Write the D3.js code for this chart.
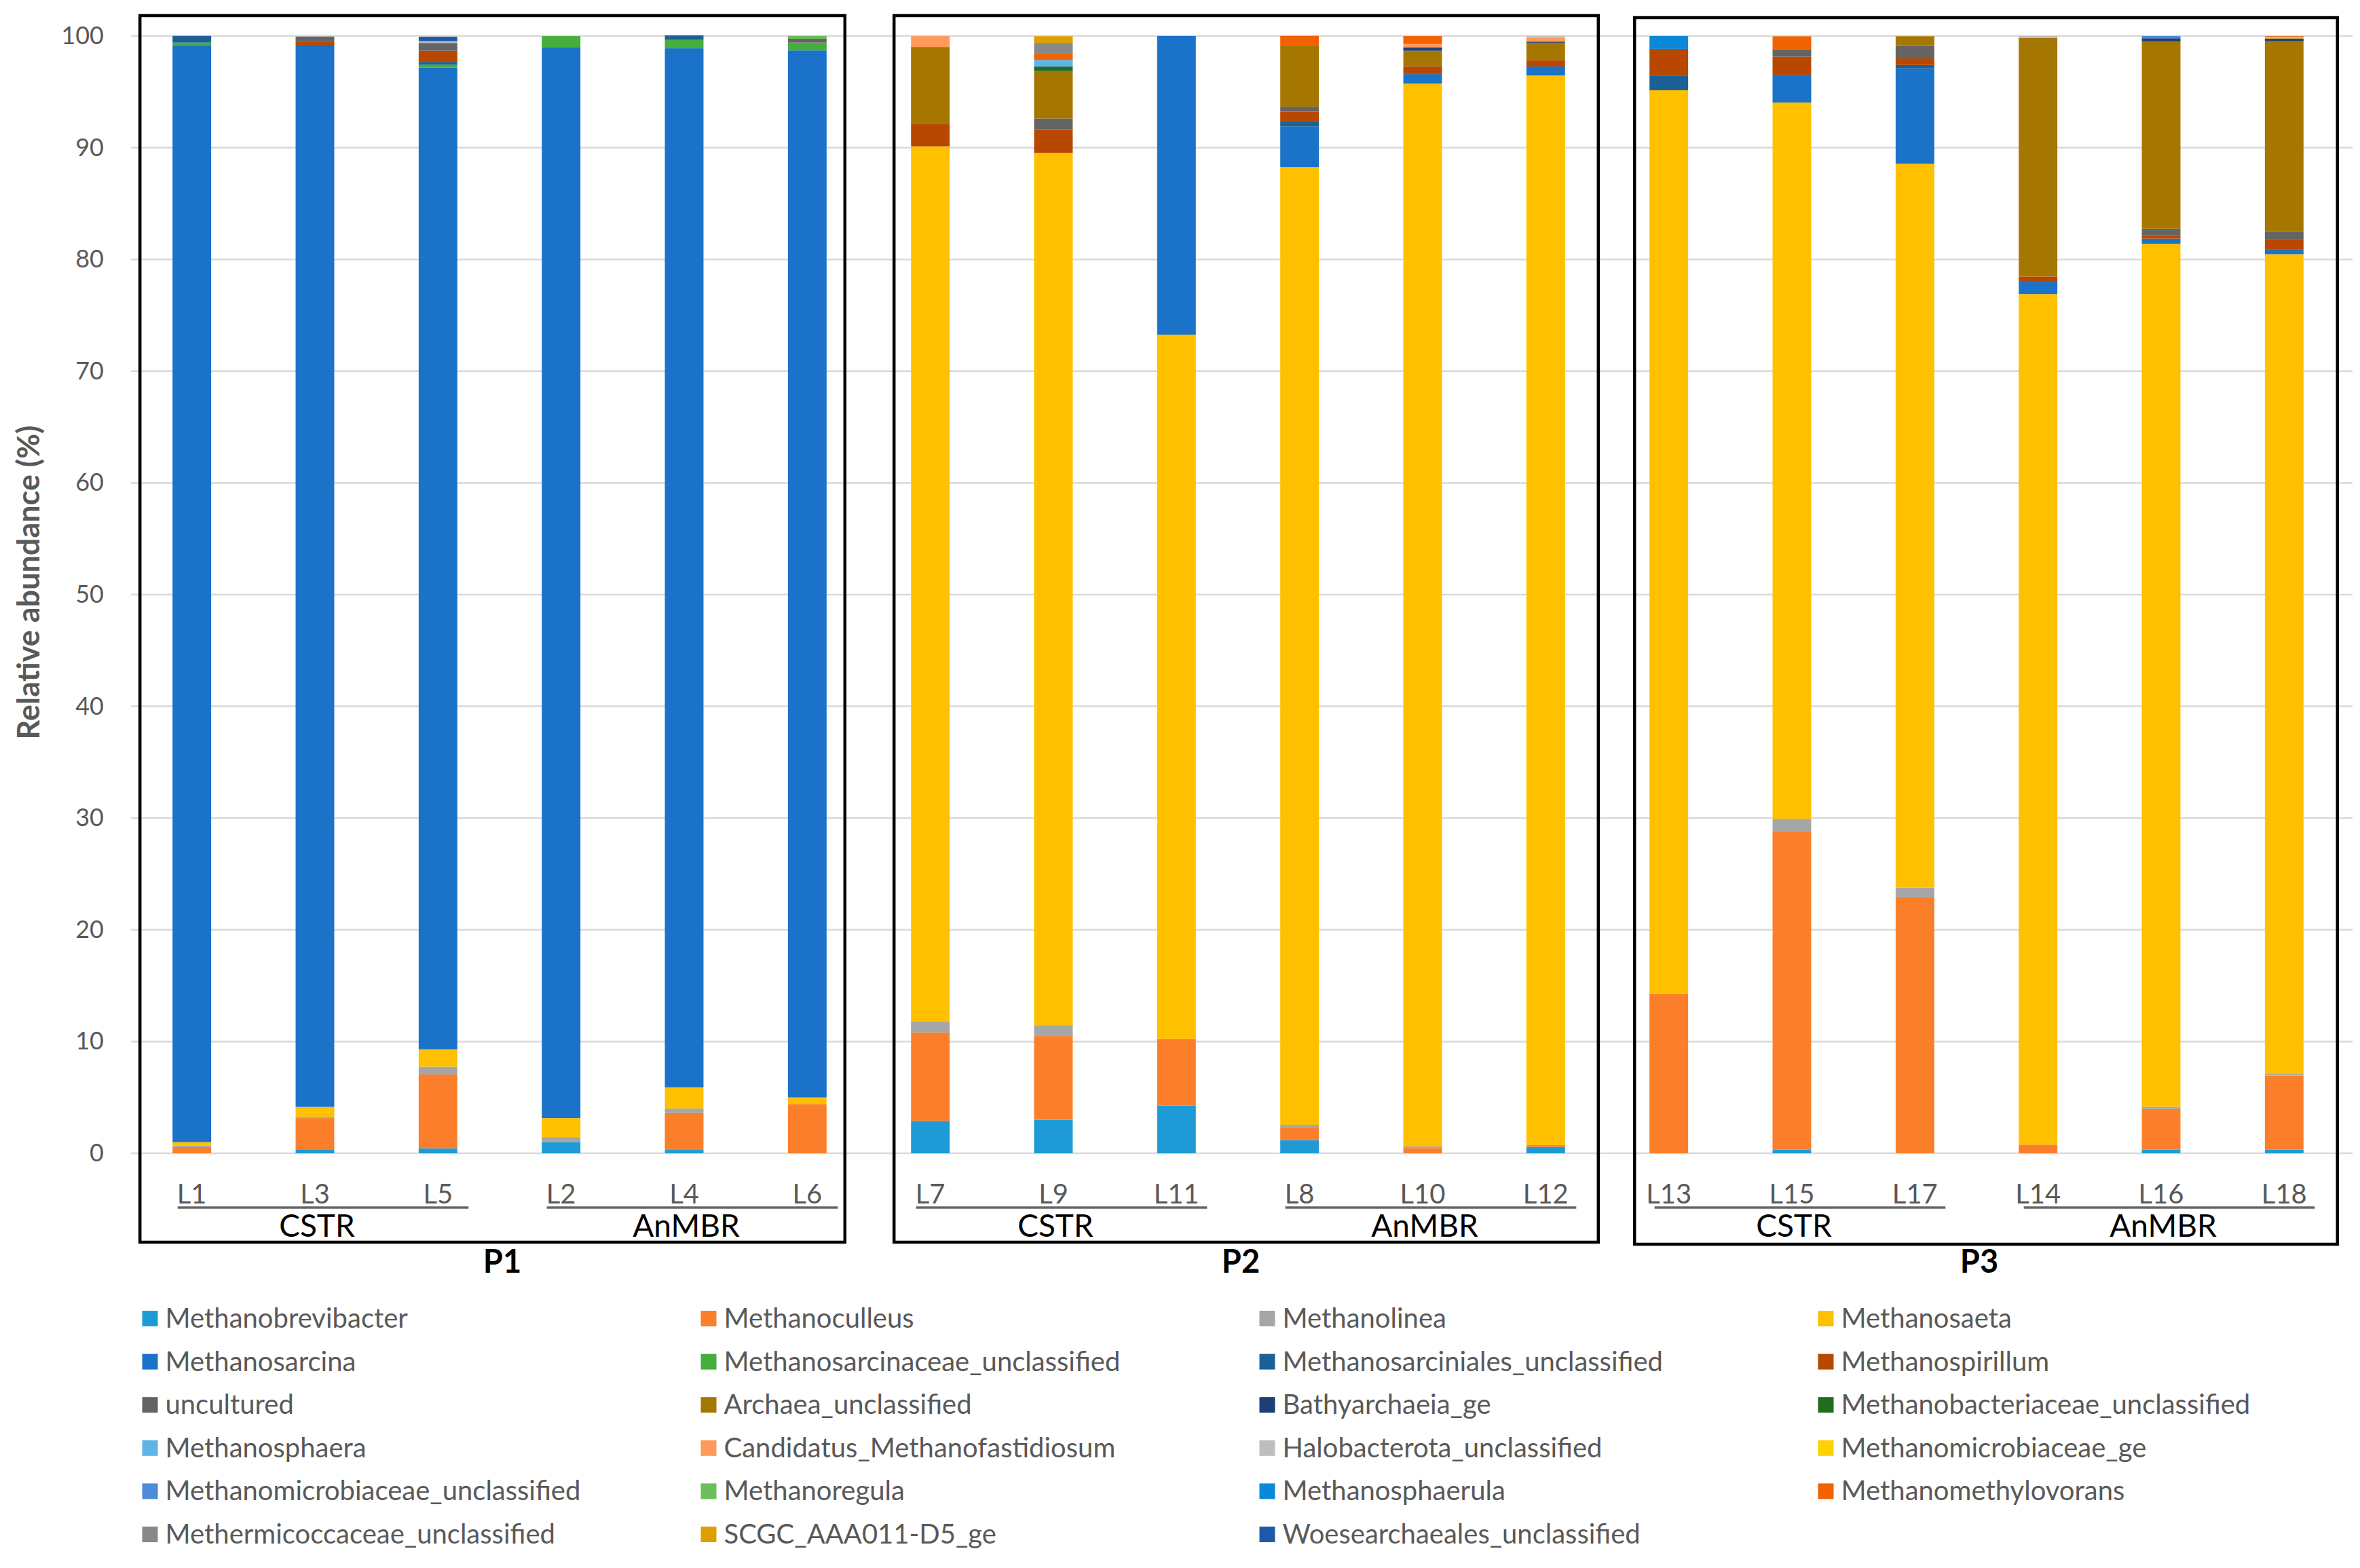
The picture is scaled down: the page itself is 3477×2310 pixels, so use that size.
<!DOCTYPE html>
<html>
<head>
<meta charset="utf-8">
<script src="https://cdn.jsdelivr.net/npm/d3@7"></script>
<style>
  body { margin: 0; background: #fff; }
  svg { display: block; font-family: Lato, "Open Sans", sans-serif; }
</style>
</head>
<body>
<div id="chart"></div>
<script>
// samples, in the order they sit on the x axis
const samples = ["L1", "L3", "L5", "L2", "L4", "L6",
                 "L7", "L9", "L11", "L8", "L10", "L12",
                 "L13", "L15", "L17", "L14", "L16", "L18"];
const panels = ["P1", "P2", "P3"];
const groups = ["CSTR", "AnMBR"];
const yTicks = [0, 10, 20, 30, 40, 50, 60, 70, 80, 90, 100];

// relative abundance (%) per genus, one value per sample (same order as samples)
const methanobrevibacter = [0, 0.35, 0.45, 1.0, 0.3, 0, 2.9, 3.0, 4.27, 1.17, 0, 0.57, 0, 0.32, 0, 0, 0.32, 0.32];
const methanoculleus = [0.55, 2.8, 6.6, 0, 3.3, 4.4, 7.9, 7.5, 5.97, 1.13, 0.47, 0.16, 14.3, 28.48, 22.91, 0.77, 3.64, 6.64];
const methanolinea = [0.15, 0.1, 0.7, 0.45, 0.4, 0, 1.0, 0.97, 0, 0.25, 0.15, 0, 0, 1.13, 0.86, 0, 0.2, 0.14];
const methanosaeta = [0.3, 0.9, 1.55, 1.7, 1.9, 0.6, 78.32, 78.07, 63.03, 85.71, 95.12, 95.73, 80.84, 64.11, 64.79, 76.13, 77.25, 73.37];
const methanosarcina = [98.16, 95.0, 87.88, 95.86, 93.0, 93.71, 0, 0, 26.73, 3.64, 0.81, 0.81, 0, 2.49, 8.54, 1.1, 0.45, 0.34];
const methanosarcinaceaeUncl = [0.25, 0, 0.25, 0.98, 0.75, 0.7, 0, 0, 0, 0, 0, 0, 0, 0, 0, 0, 0, 0];
const methanosarcinialesUncl = [0.6, 0, 0.25, 0, 0.4, 0, 0, 0, 0, 0.45, 0.1, 0, 1.28, 0, 0.3, 0, 0, 0.1];
const methanospirillum = [0, 0.4, 1.0, 0, 0, 0, 1.98, 2.1, 0, 0.87, 0.65, 0.57, 2.43, 1.62, 0.6, 0.47, 0.3, 0.87];
const uncultured = [0, 0.4, 0.7, 0, 0, 0.35, 0, 0.97, 0, 0.45, 0, 0, 0, 0.67, 1.11, 0, 0.6, 0.71];
const archaeaUncl = [0, 0, 0, 0, 0, 0, 6.92, 4.25, 0, 5.47, 1.38, 1.56, 0, 0, 0.87, 21.37, 16.76, 17.04];
const bathyarchaeia = [0, 0, 0, 0, 0, 0, 0, 0, 0, 0, 0.3, 0.1, 0, 0, 0, 0, 0.28, 0.25];
const methanobacteriaceaeUncl = [0, 0, 0, 0, 0, 0, 0, 0.4, 0, 0, 0, 0, 0, 0, 0, 0, 0, 0];
const methanosphaera = [0, 0, 0, 0, 0, 0, 0, 0.6, 0, 0, 0, 0, 0, 0, 0, 0, 0, 0];
const candidatusMf = [0, 0, 0, 0, 0, 0, 0.97, 0, 0, 0, 0.3, 0.36, 0, 0, 0, 0, 0, 0];
const halobacterotaUncl = [0, 0, 0.15, 0, 0, 0, 0, 0, 0, 0, 0, 0.14, 0, 0, 0, 0.16, 0, 0];
const methanomicrobiaceaeGe = [0, 0, 0, 0, 0, 0, 0, 0, 0, 0, 0, 0, 0, 0, 0, 0, 0, 0.1];
const methanomicrobiaceaeUncl = [0, 0, 0, 0, 0, 0, 0, 0, 0, 0, 0, 0, 0, 0, 0, 0, 0.2, 0];
const methanoregula = [0, 0, 0, 0, 0, 0.25, 0, 0, 0, 0, 0, 0, 0, 0, 0, 0, 0, 0];
const methanosphaerula = [0, 0, 0, 0, 0, 0, 0, 0, 0, 0, 0, 0, 1.15, 0, 0, 0, 0, 0];
const methanomethylovorans = [0, 0, 0, 0, 0, 0, 0, 0.55, 0, 0.87, 0.71, 0, 0, 1.15, 0, 0, 0, 0.1];
const methermicoccaceaeUncl = [0, 0, 0, 0, 0, 0, 0, 0.97, 0, 0, 0, 0, 0, 0, 0, 0, 0, 0];
const scgc = [0, 0, 0, 0, 0, 0, 0, 0.6, 0, 0, 0, 0, 0, 0, 0, 0, 0, 0];
const woesearchaealesUncl = [0, 0, 0.4, 0, 0, 0, 0, 0, 0, 0, 0, 0, 0, 0, 0, 0, 0, 0];

const taxa = ["Methanobrevibacter", "Methanoculleus", "Methanolinea", "Methanosaeta",
  "Methanosarcina", "Methanosarcinaceae_unclassified", "Methanosarciniales_unclassified", "Methanospirillum",
  "uncultured", "Archaea_unclassified", "Bathyarchaeia_ge", "Methanobacteriaceae_unclassified",
  "Methanosphaera", "Candidatus_Methanofastidiosum", "Halobacterota_unclassified", "Methanomicrobiaceae_ge",
  "Methanomicrobiaceae_unclassified", "Methanoregula", "Methanosphaerula", "Methanomethylovorans",
  "Methermicoccaceae_unclassified", "SCGC_AAA011-D5_ge", "Woesearchaeales_unclassified"];
const series = [methanobrevibacter, methanoculleus, methanolinea, methanosaeta,
  methanosarcina, methanosarcinaceaeUncl, methanosarcinialesUncl, methanospirillum,
  uncultured, archaeaUncl, bathyarchaeia, methanobacteriaceaeUncl,
  methanosphaera, candidatusMf, halobacterotaUncl, methanomicrobiaceaeGe,
  methanomicrobiaceaeUncl, methanoregula, methanosphaerula, methanomethylovorans,
  methermicoccaceaeUncl, scgc, woesearchaealesUncl];
const colors = ["#1E9BD7", "#FB7F2A", "#A6A6A6", "#FFC000",
  "#1A73C9", "#45AE3C", "#1C6196", "#B84800",
  "#646464", "#A67700", "#1C3F74", "#226B22",
  "#5DB4E5", "#FF9A5A", "#BEBEBE", "#FFD100",
  "#4E8AD8", "#6BBF5A", "#0A8AD6", "#F26200",
  "#888888", "#DDA000", "#1E5AA8"];

const width = 3477, height = 2310;
const txtGray = "#595959";

// table for d3.stack, one row per sample
const table = samples.map((s, i) => {
  const row = { sample: s };
  taxa.forEach((t, k) => { row[t] = series[k][i]; });
  return row;
});

const svg = d3.select("#chart").append("svg")
  .attr("width", width)
  .attr("height", height)
  .attr("viewBox", [0, 0, width, height]);

const x = d3.scaleBand()
  .domain(samples)
  .range([192, 3456])
  .paddingInner(0.686)
  .paddingOuter(0.343);

const y = d3.scaleLinear()
  .domain([0, 100])
  .range([1699, 53]);

const color = d3.scaleOrdinal().domain(taxa).range(colors);

// gridlines + tick labels
svg.append("g")
  .selectAll("line")
  .data(yTicks)
  .join("line")
    .attr("x1", 193).attr("x2", 3466)
    .attr("y1", d => y(d)).attr("y2", d => y(d))
    .attr("stroke", "#D9D9D9")
    .attr("stroke-width", 2.5);

svg.append("g")
  .attr("transform", "translate(188,0)")
  .call(d3.axisLeft(y).tickValues(yTicks).tickSize(0).tickPadding(35))
  .call(g => g.select(".domain").remove())
  .call(g => g.selectAll("text")
    .attr("font-size", 36)
    .attr("font-family", "Lato, sans-serif")
    .attr("fill", txtGray));

svg.append("text")
  .attr("transform", `translate(58,${(y(0) + y(100)) / 2 - 18}) rotate(-90)`)
  .attr("text-anchor", "middle")
  .attr("font-size", 45)
  .attr("font-weight", 700)
  .attr("fill", txtGray)
  .text("Relative abundance (%)");

// stacked bars
const stacked = d3.stack().keys(taxa)(table);

svg.append("g")
  .selectAll("g")
  .data(stacked)
  .join("g")
    .attr("fill", d => color(d.key))
  .selectAll("rect")
  .data(d => d)
  .join("rect")
    .attr("x", d => x(d.data.sample))
    .attr("y", d => y(d[1]))
    .attr("width", x.bandwidth())
    .attr("height", d => y(d[0]) - y(d[1]));

// sample labels
svg.append("g")
  .attr("transform", `translate(0,${y(0)})`)
  .call(d3.axisBottom(x).tickSize(0).tickPadding(46))
  .call(g => g.select(".domain").remove())
  .call(g => g.selectAll("text")
    .attr("font-size", 40)
    .attr("font-family", "Lato, sans-serif")
    .attr("fill", txtGray));

// panel frames, group lines and labels
const frameTop = [23, 23, 26], frameBottom = [1830, 1830, 1833];
const frameLeftPad = [48, 25, 22], frameRightPad = [27, 49, 50];
const bw = x.bandwidth();

panels.forEach((p, pi) => {
  const ps = samples.slice(pi * 6, pi * 6 + 6);
  const left = x(ps[0]) - frameLeftPad[pi];
  const right = x(ps[5]) + bw + frameRightPad[pi];

  groups.forEach((g, gi) => {
    const gs = ps.slice(gi * 3, gi * 3 + 3);
    const c0 = x(gs[0]) + bw / 2, c2 = x(gs[2]) + bw / 2;
    svg.append("line")
      .attr("x1", c0 - 21).attr("x2", c2 + 45)
      .attr("y1", 1779).attr("y2", 1779)
      .attr("stroke", "#666")
      .attr("stroke-width", 3.5);
    svg.append("text")
      .attr("x", x(gs[1]) + bw / 2 + 3)
      .attr("y", 1822)
      .attr("text-anchor", "middle")
      .attr("font-size", 46)
      .attr("fill", "#000")
      .text(g);
  });

  svg.append("rect")
    .attr("x", left).attr("y", frameTop[pi])
    .attr("width", right - left)
    .attr("height", frameBottom[pi] - frameTop[pi])
    .attr("fill", "none")
    .attr("stroke", "#000")
    .attr("stroke-width", 4.5);

  svg.append("text")
    .attr("x", (x(ps[2]) + x(ps[3])) / 2 + bw / 2 + 4)
    .attr("y", 1875)
    .attr("text-anchor", "middle")
    .attr("font-size", 47)
    .attr("font-weight", 700)
    .attr("fill", "#000")
    .text(p);
});

// legend: 4 columns, filled row by row
const legend = svg.append("g")
  .selectAll("g")
  .data(taxa)
  .join("g")
    .attr("transform", (d, i) => `translate(${209.5 + (i % 4) * 823},${1931 + Math.floor(i / 4) * 63.6})`);

legend.append("rect")
  .attr("width", 23).attr("height", 23)
  .attr("fill", d => color(d));

legend.append("text")
  .attr("x", 34)
  .attr("y", 25)
  .attr("font-size", 40)
  .attr("fill", txtGray)
  .text(d => d);
</script>
</body>
</html>
